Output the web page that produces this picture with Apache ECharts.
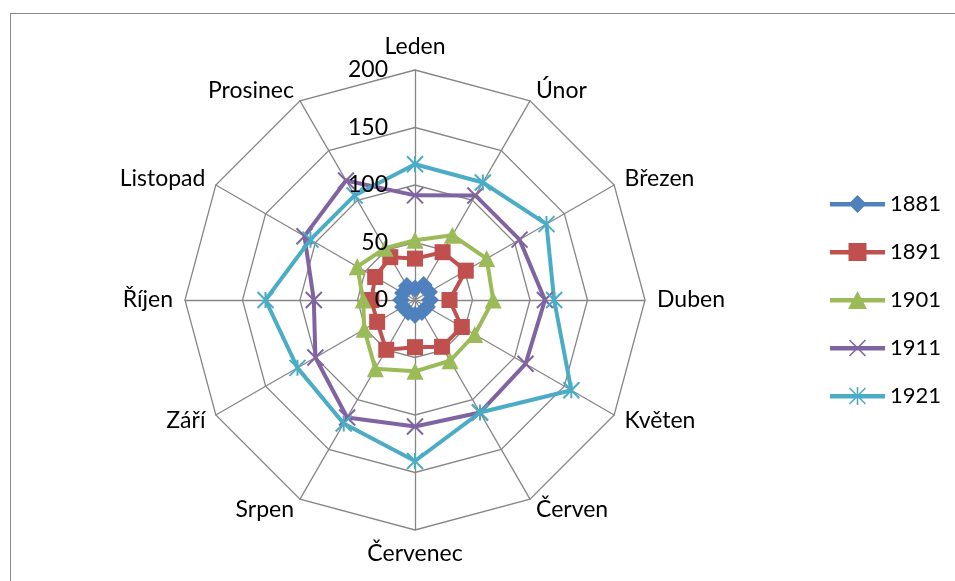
<!DOCTYPE html>
<html>
<head>
<meta charset="utf-8">
<script src="https://cdn.jsdelivr.net/npm/echarts@6/dist/echarts.min.js"></script>
<style>
  html, body { margin: 0; padding: 0; background: #fff; }
  #chart { width: 955px; height: 581px; }
  .frame {
    position: absolute; left: 10px; top: 13px; right: 0; bottom: 0;
    border-left: 1px solid #8a8a8a; border-top: 1px solid #8a8a8a;
    pointer-events: none;
  }
</style>
</head>
<body>
<div id="chart"></div>
<div class="frame"></div>
<script>
// měsíce (osy grafu, po směru hodinových ručiček od Ledna)
const months = ['Leden', 'Únor', 'Březen', 'Duben', 'Květen', 'Červen',
  'Červenec', 'Srpen', 'Září', 'Říjen', 'Listopad', 'Prosinec']
const years = ['1881', '1891', '1901', '1911', '1921']

// hodnoty
const v1881 = [10, 15, 14, 13, 12, 12, 13, 12, 12, 12, 12, 14]
const v1891 = [36, 48, 51, 30, 47, 47, 41, 50, 38, 38, 40, 43]
const v1901 = [52, 65, 72, 68, 60, 61, 62, 69, 51, 45, 58, 52]
const v1911 = [91, 105, 105, 113, 111, 113, 110, 118, 100, 88, 111, 120]
const v1921 = [118, 118, 132, 121, 157, 113, 140, 124, 118, 130, 105, 105]
const tickMax = 200
const tickStep = 50

const colors = ['#4f81bd', '#c0504d', '#9bbb59', '#8064a2', '#4bacc6']
const fontFamily = 'Lato, "Open Sans", sans-serif'

// echarts kreslí radar proti směru hodinových ručiček -> otočit pořadí
const order = [0].concat(months.slice(1).map((m, i) => months.length - 1 - i))
const clockwise = arr => order.map(i => arr[i])

// tlustá úsečka jako vyplněný polygon (pro ikony legendy)
function seg(x1, y1, x2, y2, w) {
  const dx = x2 - x1, dy = y2 - y1
  const len = Math.sqrt(dx * dx + dy * dy)
  const nx = dy / len * w / 2, ny = -dx / len * w / 2
  return 'M' + (x1 + nx) + ' ' + (y1 + ny) + ' L' + (x2 + nx) + ' ' + (y2 + ny) +
    ' L' + (x2 - nx) + ' ' + (y2 - ny) + ' L' + (x1 - nx) + ' ' + (y1 - ny) + ' Z '
}
const bar = 'M0 7 H55 V11.5 H0 Z '
const cross = seg(19.5, 1, 35.5, 17, 1.6) + seg(35.5, 1, 19.5, 17, 1.6)
const legendIcons = [
  'path://' + bar + 'M27.5 0 L36.5 9 L27.5 18 L18.5 9 Z',
  'path://' + bar + 'M18.5 0 H36.5 V18 H18.5 Z',
  'path://' + bar + 'M27.5 0 L37 18 L18 18 Z',
  'path://' + bar + cross + 'M27.5 0 H27.51 V18 H27.5 Z',
  'path://' + bar + cross + seg(27.5, 18, 27.5, 0, 1.6)
]

const xPath = 'path://M0 0 L10 10 M10 0 L0 10'
const starPath = 'path://M5 0 L5 10 M0 0 L10 10 M10 0 L0 10'

const chart = echarts.init(document.getElementById('chart'))

const markers = [
  { symbol: 'diamond', symbolSize: 18 },
  { symbol: 'rect', symbolSize: 16 },
  { symbol: 'triangle', symbolSize: 17 },
  { symbol: xPath, symbolSize: 16, stroke: true },
  { symbol: starPath, symbolSize: 16, stroke: true }
]
const allValues = [v1881, v1891, v1901, v1911, v1921]

const series = years.map((year, i) => {
  const m = markers[i]
  return {
    type: 'radar',
    name: year,
    symbol: m.symbol,
    symbolSize: m.symbolSize,
    lineStyle: { color: colors[i], width: 4 },
    itemStyle: m.stroke
      ? { color: 'rgba(0,0,0,0)', borderColor: colors[i], borderWidth: 2 }
      : { color: colors[i] },
    data: [{ value: clockwise(allValues[i]), name: year }]
  }
})

const option = {
  animation: false,
  color: colors,
  textStyle: { fontFamily: fontFamily },
  legend: {
    orient: 'vertical',
    left: 830,
    top: 193,
    padding: 0,
    itemGap: 26,
    itemWidth: 55,
    itemHeight: 18,
    textStyle: { fontSize: 22, color: '#000', fontFamily: fontFamily },
    data: years.map((year, i) => ({
      name: year,
      icon: legendIcons[i],
      itemStyle: { color: colors[i], borderWidth: 0 }
    }))
  },
  radar: {
    center: [415, 300],
    radius: 230,
    startAngle: 90,
    shape: 'polygon',
    splitNumber: tickMax / tickStep,
    indicator: clockwise(months).map(name => ({ name: name, min: 0, max: tickMax })),
    axisName: { color: '#000', fontSize: 23, fontFamily: fontFamily },
    nameGap: 12,
    axisLine: { lineStyle: { color: '#868686', width: 1.3 } },
    splitLine: { lineStyle: { color: '#868686', width: 1.3 } },
    splitArea: { show: false },
    axisTick: { show: false },
    axisLabel: { show: false }
  },
  // polar jen kvůli popiskům svislé osy
  polar: { center: [415, 300], radius: 230 },
  angleAxis: { type: 'value', startAngle: 90, show: false },
  radiusAxis: {
    type: 'value',
    min: 0,
    max: tickMax,
    interval: tickStep,
    z: 20,
    axisLine: { show: false },
    axisTick: { show: false },
    splitLine: { show: false },
    axisLabel: { color: '#000', fontSize: 23, margin: 27, fontFamily: fontFamily }
  },
  series: series
}

chart.setOption(option)
</script>
</body>
</html>
